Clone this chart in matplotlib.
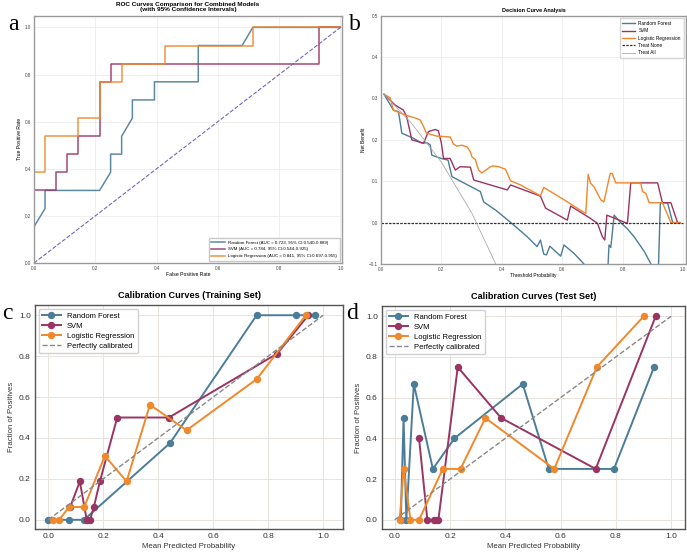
import matplotlib
matplotlib.use("Agg")
import matplotlib.pyplot as plt
import numpy as np

# ---------------- data ----------------
models = ["Random Forest", "SVM", "Logistic Regression"]
colors = ["#4b7d99", "#9a3462", "#f0882c"]

# ROC curves (panel a)
rf_fpr = [0, 0, 0.036, 0.036, 0.214, 0.25, 0.25, 0.286, 0.286, 0.321, 0.321, 0.393, 0.393, 0.536, 0.536, 0.679, 0.714, 1.0]
rf_tpr = [0, 0.154, 0.231, 0.308, 0.308, 0.385, 0.462, 0.462, 0.538, 0.615, 0.692, 0.692, 0.769, 0.769, 0.923, 0.923, 1.0, 1.0]
svm_fpr = [0, 0, 0.071, 0.071, 0.107, 0.107, 0.143, 0.143, 0.214, 0.214, 0.25, 0.25, 0.929, 0.929, 1.0]
svm_tpr = [0, 0.308, 0.308, 0.385, 0.385, 0.462, 0.462, 0.538, 0.538, 0.769, 0.769, 0.846, 0.846, 1.0, 1.0]
lr_fpr = [0, 0, 0.036, 0.036, 0.143, 0.143, 0.214, 0.214, 0.286, 0.286, 0.429, 0.429, 0.714, 0.714, 1.0]
lr_tpr = [0, 0.385, 0.385, 0.538, 0.538, 0.615, 0.615, 0.769, 0.769, 0.846, 0.846, 0.923, 0.923, 1.0, 1.0]
roc_labels = ["Random Forest (AUC = 0.723, 95% CI:0.540-0.889)",
              "SVM (AUC = 0.784, 95% CI:0.544-0.925)",
              "Logistic Regression (AUC = 0.841, 95% CI:0.697-0.955)"]

# Decision curves (panel b)
rf_t = [0.01, 0.041, 0.058, 0.069, 0.107, 0.135, 0.152, 0.163, 0.168, 0.2, 0.222, 0.235, 0.329, 0.34, 0.38, 0.43,
        0.484, 0.517, 0.528, 0.539, 0.548, 0.559, 0.595, 0.606, 0.64, 0.672, 0.70, 0.75, 0.755, 0.761, 0.772,
        0.794, 0.816, 0.838, 0.872, 0.894, 0.91, 0.918, 0.925, 0.949, 0.966, 0.99]
rf_nb = [0.31, 0.272, 0.268, 0.216, 0.204, 0.192, 0.193, 0.188, 0.163, 0.155, 0.151, 0.111, 0.075, 0.05, 0.03, 0.0,
         -0.034, -0.058, -0.042, -0.076, -0.078, -0.057, -0.081, -0.054, -0.075, -0.1, -0.13, -0.13, -0.054, -0.06, 0.018,
         0.0, -0.015, -0.034, -0.07, -0.1, -0.13, -0.13, 0.048, 0.048, 0.0, 0.0]
svm_t = [0.01, 0.047, 0.074, 0.085, 0.102, 0.141, 0.157, 0.179, 0.19, 0.2, 0.207, 0.229, 0.246, 0.262, 0.296, 0.307,
         0.418, 0.429, 0.528, 0.545, 0.617, 0.628, 0.694, 0.717, 0.733, 0.741, 0.748, 0.816, 0.827, 0.916, 0.932,
         0.96, 0.982, 0.99]
svm_nb = [0.31, 0.284, 0.272, 0.256, 0.2, 0.192, 0.22, 0.225, 0.222, 0.192, 0.155, 0.155, 0.127, 0.135, 0.134, 0.103,
          0.079, 0.091, 0.064, 0.035, 0.006, 0.04, 0.01, -0.002, -0.034, -0.042, 0.018, -0.002, 0.096, 0.096, 0.048,
          0.048, 0.0, 0.0]
lr_t = [0.01, 0.03, 0.041, 0.08, 0.113, 0.13, 0.141, 0.15, 0.185, 0.229, 0.24, 0.251, 0.268, 0.285, 0.296, 0.301,
        0.312, 0.323, 0.334, 0.351, 0.362, 0.371, 0.39, 0.412, 0.429, 0.462, 0.528, 0.539, 0.6, 0.678, 0.686, 0.694,
        0.705, 0.728, 0.738, 0.759, 0.766, 0.777, 0.86, 0.866, 0.877, 0.888, 0.932, 0.96, 0.99]
lr_nb = [0.31, 0.302, 0.272, 0.26, 0.253, 0.248, 0.232, 0.216, 0.209, 0.207, 0.19, 0.185, 0.187, 0.183, 0.171, 0.159,
         0.153, 0.127, 0.12, 0.129, 0.135, 0.137, 0.135, 0.129, 0.101, 0.091, 0.065, 0.085, 0.058, 0.022, 0.117, 0.095,
         0.087, 0.055, 0.05, 0.119, 0.119, 0.096, 0.096, 0.075, 0.071, 0.048, 0.048, 0.0, 0.0]
treat_all_t = [0.01, 0.1, 0.2, 0.3, 0.38]
treat_all_nb = [0.31, 0.241, 0.146, 0.024, -0.1]
treat_none_t = [0.0, 1.0]
treat_none_nb = [0.0, 0.0]

# Calibration (panel c, training)
c_rf_x = [0.0, 0.076, 0.13, 0.443, 0.758, 0.9, 0.97]
c_rf_y = [0.0, 0.0, 0.0, 0.375, 1.0, 1.0, 1.0]
c_svm_x = [0.08, 0.115, 0.14, 0.152, 0.166, 0.188, 0.251, 0.439, 0.833, 0.946]
c_svm_y = [0.0625, 0.1875, 0.0, 0.0, 0.0625, 0.1875, 0.5, 0.5, 0.8125, 1.0]
c_lr_x = [0.018, 0.04, 0.076, 0.131, 0.206, 0.285, 0.37, 0.503, 0.758, 0.937]
c_lr_y = [0.0, 0.0, 0.0625, 0.0625, 0.3125, 0.1875, 0.5625, 0.4375, 0.6875, 1.0]

# Calibration (panel d, test)
d_rf_x = [0.022, 0.032, 0.042, 0.069, 0.138, 0.216, 0.463, 0.557, 0.793, 0.938]
d_rf_y = [0.0, 0.5, 0.0, 0.667, 0.25, 0.4, 0.667, 0.25, 0.25, 0.75]
d_svm_x = [0.088, 0.118, 0.142, 0.15, 0.158, 0.228, 0.385, 0.727, 0.944]
d_svm_y = [0.4, 0.0, 0.0, 0.0, 0.0, 0.75, 0.5, 0.25, 1.0]
d_lr_x = [0.018, 0.032, 0.057, 0.088, 0.174, 0.238, 0.328, 0.577, 0.731, 0.901]
d_lr_y = [0.0, 0.25, 0.0, 0.0, 0.25, 0.25, 0.5, 0.25, 0.75, 1.0]

# ---------------- figure ----------------
plt.rcParams['font.family'] = ['Liberation Sans', 'DejaVu Sans']
fig = plt.figure(figsize=(6.87, 5.53), dpi=100)
W, H = 687.0, 553.0

def ax_px(l, t, r, b):
    return fig.add_axes([l / W, 1 - b / H, (r - l) / W, (b - t) / H])

def small_style(ax):
    for s in ax.spines.values():
        s.set_color('#9a9a9a')
        s.set_linewidth(1.0)
    ax.grid(True, color='#ececec', lw=0.6)
    ax.set_axisbelow(True)
    ax.tick_params(length=0, labelsize=3.3, pad=2, colors='#444444')

# Panel a
axa = ax_px(34, 15.6, 342, 263)
small_style(axa)
for fx, ty, c, lab in zip([rf_fpr, svm_fpr, lr_fpr], [rf_tpr, svm_tpr, lr_tpr], colors, roc_labels):
    axa.plot(fx, ty, color=c, lw=1.1, label=lab, alpha=0.9)
axa.plot([0, 1], [0, 1], ls='--', color='#7566b8', lw=0.8)
axa.set_xlim(0, 1.005)
axa.set_ylim(0, 1.05)
axa.set_xticks([0, 0.2, 0.4, 0.6, 0.8, 1.0])
axa.set_yticks([0, 0.2, 0.4, 0.6, 0.8, 1.0])
axa.set_xlabel("False Positive Rate", fontsize=3.7, labelpad=1)
axa.set_ylabel("True Positive Rate", fontsize=3.7, labelpad=2)
axa.set_title("ROC Curves Comparison for Combined Models\n(with 95% Confidence Intervals)",
              fontsize=4.6, fontweight='bold', pad=3, linespacing=1.1)
axa.legend(loc='lower right', fontsize=3.2, frameon=True, edgecolor='#bbbbbb', fancybox=False,
           handlelength=3, borderpad=0.6, labelspacing=0.6)

# Panel b
axb = ax_px(381, 15.7, 686, 264)
small_style(axb)
axb.plot(rf_t, rf_nb, color=colors[0], lw=1.0, label="Random Forest")
axb.plot(svm_t, svm_nb, color=colors[1], lw=1.0, label="SVM")
axb.plot(lr_t, lr_nb, color=colors[2], lw=1.0, label="Logistic Regression")
axb.plot(treat_none_t, treat_none_nb, color='#333333', ls=(0, (2, 1)), lw=0.9, label="Treat None")
axb.plot(treat_all_t, treat_all_nb, color='#aaaaaa', lw=0.6, label="Treat All")
axb.set_xlim(0, 1.01)
axb.set_ylim(-0.1, 0.5)
axb.set_xticks([0, 0.2, 0.4, 0.6, 0.8, 1.0])
axb.set_yticks([-0.1, 0.0, 0.1, 0.2, 0.3, 0.4, 0.5])
axb.set_xlabel("Threshold Probability", fontsize=3.5, labelpad=1)
axb.set_ylabel("Net Benefit", fontsize=3.5, labelpad=2)
axb.set_title("Decision Curve Analysis", fontsize=4.0, fontweight='bold', pad=3)
axb.legend(loc='upper right', fontsize=3.4, frameon=True, edgecolor='#cccccc', fancybox=False,
           handlelength=2.6, borderpad=0.6, labelspacing=0.5)

# Calibration panels
def cal_style(ax, title, xlim):
    for s in ax.spines.values():
        s.set_color('#555555')
        s.set_linewidth(1.0)
    ax.grid(True, color='#e8e3de', lw=0.7)
    ax.set_axisbelow(True)
    ax.tick_params(length=0, labelsize=6.0, pad=3, colors='#333333')
    ax.set_xlim(*xlim)
    ax.set_ylim(-0.045, 1.05)
    ax.set_xticks([0, 0.2, 0.4, 0.6, 0.8, 1.0])
    ax.set_yticks([0, 0.2, 0.4, 0.6, 0.8, 1.0])
    ax.set_xlabel("Mean Predicted Probability", fontsize=5.6, labelpad=2, color='#333333')
    ax.set_ylabel("Fraction of Positives", fontsize=5.6, labelpad=3, color='#333333')
    ax.set_title(title, fontsize=6.6, fontweight='bold', pad=5)

def cal_plot(ax, xs, ys):
    for x, y, c, m in zip(xs, ys, colors, models):
        ax.plot(x, y, marker='o', ms=4.3, color=c, lw=1.4, label=m)
    ax.plot([0, 1], [0, 1], ls='--', color='#888888', lw=1.0, label="Perfectly calibrated")
    ax.legend(loc='upper left', fontsize=5.5, frameon=True, edgecolor='#cccccc', framealpha=0.9,
              handlelength=2.4, borderpad=0.45, labelspacing=0.35)

axc = ax_px(35, 305, 343, 529)
cal_style(axc, "Calibration Curves (Training Set)", (-0.048, 1.072))
cal_plot(axc, [c_rf_x, c_svm_x, c_lr_x], [c_rf_y, c_svm_y, c_lr_y])

axd = ax_px(382, 306, 685, 529)
cal_style(axd, "Calibration Curves (Test Set)", (-0.046, 1.05))
cal_plot(axd, [d_rf_x, d_svm_x, d_lr_x], [d_rf_y, d_svm_y, d_lr_y])

# panel letters
for lab, x, y in [("a", 8, 30), ("b", 349, 30), ("c", 2, 319), ("d", 346, 319)]:
    fig.text(x / W, 1 - y / H, lab, fontsize=17, family='Liberation Serif', ha='left', va='baseline')

fig.savefig("out.png", dpi=100)
